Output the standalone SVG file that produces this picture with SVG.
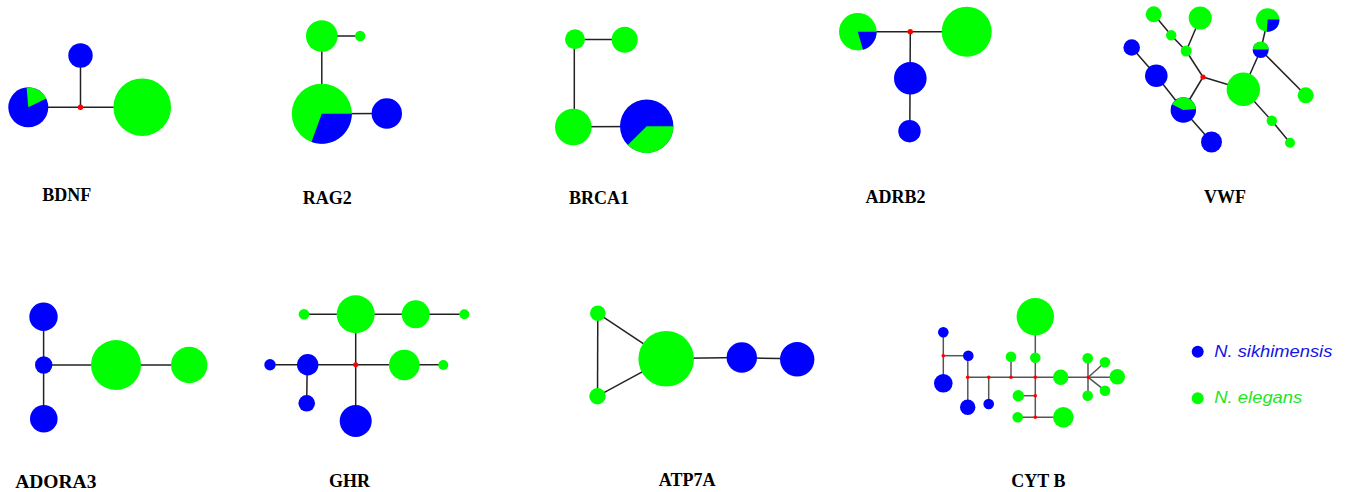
<svg xmlns="http://www.w3.org/2000/svg" width="1347" height="492" viewBox="0 0 1347 492">
<style>
.e{stroke:#222;stroke-width:1.5;fill:none}
.eg{stroke:#555;stroke-width:1.5;fill:none}
.b{fill:#0000ff}
.g{fill:#00ff00}
.r{fill:#ff0000}
.t{font-family:"Liberation Serif","Times New Roman",serif;font-weight:bold;font-size:18px;fill:#000;text-anchor:middle}
.lg{font-family:"Liberation Sans",Arial,sans-serif;font-style:italic;font-size:17px}
</style>
<rect width="1347" height="492" fill="#fff"/>

<!-- BDNF -->
<g id="bdnf">
<g id="bdnf-edges" class="e">
<line x1="28.3" y1="107.3" x2="142.2" y2="107.3"/>
<line x1="80.5" y1="107.3" x2="80.5" y2="55.5"/>
</g>
<g id="bdnf-h1"><circle class="b" cx="80.5" cy="55.5" r="12.2"/></g>
<g id="bdnf-h2"><circle class="b" cx="28.3" cy="107.3" r="20"/><path class="g" d="M28.3,107.3 L26.6,87.4 A20,20 0 0,1 46.3,98.5 Z"/></g>
<g id="bdnf-mv"><circle class="r" cx="80.5" cy="107.3" r="2.7"/></g>
<g id="bdnf-h3"><circle class="g" cx="142.2" cy="107.2" r="28.8"/></g>
<text class="t" x="66.7" y="200.5">BDNF</text>
</g>

<!-- RAG2 -->
<g id="rag2">
<g id="rag2-edges" class="e">
<line x1="321.8" y1="36" x2="360.2" y2="36"/>
<line x1="321.8" y1="36" x2="321.8" y2="113.7"/>
<line x1="321.8" y1="113.7" x2="386.8" y2="113.5"/>
</g>
<g id="rag2-h1"><circle class="g" cx="321.8" cy="36" r="15.8"/></g>
<g id="rag2-h2"><circle class="g" cx="360.2" cy="36" r="5.2"/></g>
<g id="rag2-h3"><circle class="g" cx="321.8" cy="113.7" r="30"/><path class="b" d="M321.8,113.7 L351.8,113.7 A30,30 0 0,1 311.5,141.9 Z"/></g>
<g id="rag2-h4"><circle class="b" cx="386.8" cy="113.5" r="15.2"/></g>
<text class="t" x="327.2" y="204">RAG2</text>
</g>

<!-- BRCA1 -->
<g id="brca1">
<g id="brca1-edges" class="e">
<line x1="575" y1="39.5" x2="624.7" y2="39.5"/>
<line x1="574.3" y1="39.5" x2="574.3" y2="127"/>
<line x1="573.3" y1="126.8" x2="646.7" y2="126.4"/>
</g>
<g id="brca1-h1"><circle class="g" cx="575" cy="39.2" r="10"/></g>
<g id="brca1-h2"><circle class="g" cx="624.7" cy="39.7" r="13"/></g>
<g id="brca1-h3"><circle class="g" cx="573.3" cy="127" r="18.3"/></g>
<g id="brca1-h4"><circle class="b" cx="646.7" cy="126.2" r="26.7"/><path class="g" d="M646.7,126.2 L673.4,126.2 A26.7,26.7 0 0,1 627.8,145.1 Z"/></g>
<text class="t" x="599" y="204.3">BRCA1</text>
</g>

<!-- ADRB2 -->
<g id="adrb2">
<g id="adrb2-edges" class="e">
<line x1="857.8" y1="31.7" x2="966.7" y2="31.7"/>
<line x1="910.3" y1="31.7" x2="909.8" y2="131.2"/>
</g>
<g id="adrb2-h1"><circle class="g" cx="857.8" cy="31.7" r="18.8"/><path class="b" d="M857.8,31.7 L876.6,31.7 A18.8,18.8 0 0,1 863,49.8 Z"/></g>
<g id="adrb2-mv"><circle class="r" cx="910.3" cy="31.7" r="2.7"/></g>
<g id="adrb2-h2"><circle class="g" cx="966.7" cy="31.7" r="25"/></g>
<g id="adrb2-h3"><circle class="b" cx="910.3" cy="78.3" r="16.3"/></g>
<g id="adrb2-h4"><circle class="b" cx="909.5" cy="131.2" r="11.2"/></g>
<text class="t" x="895.5" y="203.3">ADRB2</text>
</g>

<!-- VWF -->
<g id="vwf">
<g id="vwf-edges" class="e">
<line x1="1153.7" y1="14.3" x2="1171.2" y2="35.2"/>
<line x1="1171.2" y1="35.2" x2="1186.2" y2="51"/>
<line x1="1200.2" y1="18" x2="1186.2" y2="51"/>
<line x1="1186.2" y1="51" x2="1203" y2="77"/>
<line x1="1203" y1="77" x2="1183.3" y2="110"/>
<line x1="1203" y1="77" x2="1243.3" y2="89.3"/>
<line x1="1131.7" y1="47.5" x2="1156.3" y2="75.7"/>
<line x1="1156.3" y1="75.7" x2="1183.3" y2="110"/>
<line x1="1183.3" y1="110" x2="1211.5" y2="142"/>
<line x1="1243.3" y1="89.3" x2="1260.7" y2="50"/>
<line x1="1260.7" y1="50" x2="1267.7" y2="20"/>
<line x1="1260.7" y1="50" x2="1305.7" y2="95.3"/>
<line x1="1243.3" y1="89.3" x2="1271.8" y2="120.8"/>
<line x1="1271.8" y1="120.8" x2="1290" y2="142.8"/>
</g>
<g id="vwf-h1"><circle class="g" cx="1153.7" cy="14.3" r="8"/></g>
<g id="vwf-h2"><circle class="g" cx="1171.2" cy="35.2" r="5.2"/></g>
<g id="vwf-h3"><circle class="g" cx="1186.2" cy="51" r="5.5"/></g>
<g id="vwf-h4"><circle class="g" cx="1200.2" cy="18" r="11.5"/></g>
<g id="vwf-mv"><circle class="r" cx="1203" cy="77" r="2.6"/></g>
<g id="vwf-h5"><circle class="b" cx="1131.7" cy="47.5" r="8.3"/></g>
<g id="vwf-h6"><circle class="b" cx="1156.3" cy="75.7" r="11.3"/></g>
<g id="vwf-h7"><circle class="b" cx="1183.3" cy="110" r="12.7"/><path class="g" d="M1183.3,110 L1172,104.2 A12.7,12.7 0 0,1 1195.9,108.9 Z"/></g>
<g id="vwf-h8"><circle class="b" cx="1211.5" cy="142" r="10.5"/></g>
<g id="vwf-h9"><circle class="g" cx="1243.3" cy="89.3" r="16.7"/></g>
<g id="vwf-h10"><circle class="b" cx="1260.7" cy="50" r="8"/><path class="g" d="M1252.7,49.5 A8,8 0 0,1 1268.7,49.5 Z"/></g>
<g id="vwf-h11"><circle class="g" cx="1267.7" cy="20" r="11.7"/><path class="b" d="M1267.7,19.5 L1279.4,19.5 A11.7,11.7 0 0,1 1266.7,31.7 Z"/></g>
<g id="vwf-h12"><circle class="g" cx="1305.7" cy="95.3" r="8"/></g>
<g id="vwf-h13"><circle class="g" cx="1271.8" cy="120.8" r="5.2"/></g>
<g id="vwf-h14"><circle class="g" cx="1290" cy="142.8" r="5"/></g>
<text class="t" x="1225" y="203.3">VWF</text>
</g>

<!-- ADORA3 -->
<g id="adora3">
<g id="adora3-edges" class="e">
<line x1="43.6" y1="316.7" x2="43.6" y2="418.7"/>
<line x1="43.7" y1="365" x2="189.2" y2="365"/>
</g>
<g id="adora3-h1"><circle class="b" cx="43.5" cy="316.7" r="14.2"/></g>
<g id="adora3-h2"><circle class="b" cx="43.7" cy="365" r="8.7"/></g>
<g id="adora3-h3"><circle class="b" cx="43.8" cy="418.7" r="13.8"/></g>
<g id="adora3-h4"><circle class="g" cx="116" cy="365" r="25"/></g>
<g id="adora3-h5"><circle class="g" cx="189.2" cy="365" r="18.2"/></g>
<text class="t" x="55.8" y="487.7" style="font-size:19.5px">ADORA3</text>
</g>

<!-- GHR -->
<g id="ghr">
<g id="ghr-edges" class="e">
<line x1="304" y1="314.3" x2="464.3" y2="314.3"/>
<line x1="355.7" y1="314.3" x2="355.7" y2="421"/>
<line x1="270" y1="364.7" x2="443.3" y2="364.7"/>
<line x1="307.2" y1="364.7" x2="306.7" y2="403.3"/>
</g>
<g id="ghr-h1"><circle class="g" cx="304" cy="314.3" r="5.3"/></g>
<g id="ghr-h2"><circle class="g" cx="355.7" cy="314.3" r="19"/></g>
<g id="ghr-h3"><circle class="g" cx="415.7" cy="314.3" r="14"/></g>
<g id="ghr-h4"><circle class="g" cx="464.3" cy="314.3" r="5"/></g>
<g id="ghr-mv"><circle class="r" cx="355.7" cy="364.7" r="2.5"/></g>
<g id="ghr-h5"><circle class="b" cx="270" cy="364.7" r="5.7"/></g>
<g id="ghr-h6"><circle class="b" cx="307.7" cy="364.7" r="10.7"/></g>
<g id="ghr-h7"><circle class="b" cx="306.7" cy="403.3" r="8.3"/></g>
<g id="ghr-h8"><circle class="b" cx="355.7" cy="421" r="16"/></g>
<g id="ghr-h9"><circle class="g" cx="404.3" cy="365" r="15.3"/></g>
<g id="ghr-h10"><circle class="g" cx="443.3" cy="365" r="5"/></g>
<text class="t" x="349.5" y="486.7">GHR</text>
</g>

<!-- ATP7A -->
<g id="atp7a">
<g id="atp7a-edges" class="e">
<line x1="597.8" y1="313.3" x2="597.5" y2="396.2"/>
<line x1="597.8" y1="313.3" x2="666.2" y2="358.8"/>
<line x1="597.5" y1="396.2" x2="666.2" y2="358.8"/>
<line x1="666.2" y1="358.5" x2="741.8" y2="357.5"/>
<line x1="741.8" y1="357.8" x2="797.2" y2="358.8"/>
</g>
<g id="atp7a-h1"><circle class="g" cx="597.8" cy="313.3" r="7.8"/></g>
<g id="atp7a-h2"><circle class="g" cx="597.5" cy="396.2" r="8.2"/></g>
<g id="atp7a-h3"><circle class="g" cx="666.2" cy="358.8" r="27.8"/></g>
<g id="atp7a-h4"><circle class="b" cx="741.8" cy="357.5" r="15.2"/></g>
<g id="atp7a-h5"><circle class="b" cx="797.2" cy="359.3" r="17.2"/></g>
<text class="t" x="687.2" y="485.7">ATP7A</text>
</g>

<!-- CYT B -->
<g id="cytb">
<g id="cytb-edges" class="eg">
<line x1="943.3" y1="332.3" x2="943.3" y2="383.3"/>
<line x1="943.3" y1="355.7" x2="968.3" y2="355.7"/>
<line x1="967.8" y1="355.7" x2="967.8" y2="407.3"/>
<line x1="967.7" y1="377.3" x2="1117.3" y2="377.3"/>
<line x1="988.7" y1="377.3" x2="988.7" y2="404"/>
<line x1="1011" y1="377.3" x2="1011" y2="356.7"/>
<line x1="1035.3" y1="316.7" x2="1035.3" y2="417.3"/>
<line x1="1035.3" y1="395.7" x2="1018.3" y2="395.7"/>
<line x1="1017.7" y1="417.3" x2="1063.3" y2="417.3"/>
<line x1="1088" y1="358.3" x2="1088" y2="395.7"/>
<line x1="1088.3" y1="377.3" x2="1105" y2="362.3"/>
<line x1="1088.3" y1="377.3" x2="1105" y2="390.7"/>
</g>
<g id="cytb-h1"><circle class="b" cx="943.3" cy="332.3" r="5.3"/></g>
<g id="cytb-h2"><circle class="b" cx="968.3" cy="355.7" r="5.3"/></g>
<g id="cytb-h3"><circle class="b" cx="943.3" cy="383.3" r="9.3"/></g>
<g id="cytb-h4"><circle class="b" cx="967.7" cy="407.3" r="7.7"/></g>
<g id="cytb-h5"><circle class="b" cx="988.7" cy="404" r="5.3"/></g>
<g id="cytb-h6"><circle class="g" cx="1011" cy="356.7" r="5.3"/></g>
<g id="cytb-h7"><circle class="g" cx="1035.3" cy="357.7" r="5.3"/></g>
<g id="cytb-h8"><circle class="g" cx="1035.3" cy="316.7" r="18.7"/></g>
<g id="cytb-h9"><circle class="g" cx="1018.3" cy="395.7" r="5.7"/></g>
<g id="cytb-h10"><circle class="g" cx="1017.7" cy="417.3" r="5.3"/></g>
<g id="cytb-h11"><circle class="g" cx="1063.3" cy="417.3" r="10.3"/></g>
<g id="cytb-h12"><circle class="g" cx="1060.7" cy="377.3" r="7.7"/></g>
<g id="cytb-h13"><circle class="g" cx="1087.7" cy="358.3" r="5.3"/></g>
<g id="cytb-h14"><circle class="g" cx="1087.7" cy="395.7" r="5.3"/></g>
<g id="cytb-h15"><circle class="g" cx="1105" cy="362.3" r="5.3"/></g>
<g id="cytb-h16"><circle class="g" cx="1117.3" cy="376.7" r="7.7"/></g>
<g id="cytb-h17"><circle class="g" cx="1105" cy="390.7" r="5.3"/></g>
<g id="cytb-mv">
<circle class="r" cx="943.3" cy="355.7" r="1.8"/>
<circle class="r" cx="967.7" cy="377.3" r="1.8"/>
<circle class="r" cx="988.7" cy="377.3" r="1.8"/>
<circle class="r" cx="1011" cy="377.3" r="1.8"/>
<circle class="r" cx="1035.3" cy="377.3" r="1.8"/>
<circle class="r" cx="1035.3" cy="395.7" r="1.8"/>
<circle class="r" cx="1035.3" cy="417.3" r="1.8"/>
<circle class="r" cx="1088.3" cy="377.3" r="1.8"/>
</g>
<text class="t" x="1038.3" y="486.7">CYT B</text>
</g>

<!-- Legend -->
<g id="legend">
<g id="legend-sikhimensis">
<circle class="b" cx="1197.7" cy="351.7" r="6"/>
<text class="lg" x="1214.3" y="356.7" fill="#1414e6" textLength="118" lengthAdjust="spacingAndGlyphs">N. sikhimensis</text>
</g>
<g id="legend-elegans">
<circle class="g" cx="1197.7" cy="398.3" r="6"/>
<text class="lg" x="1214.3" y="402.7" fill="#1ee61e" textLength="88" lengthAdjust="spacingAndGlyphs">N. elegans</text>
</g>
</g>
</svg>
